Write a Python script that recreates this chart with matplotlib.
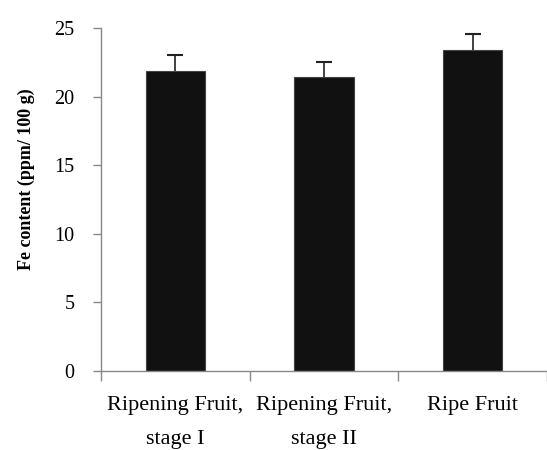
import matplotlib.pyplot as plt

# data
stages = ['Ripening Fruit,\nstage I', 'Ripening Fruit,\nstage II', 'Ripe Fruit']
fe = [21.9, 21.4, 23.4]
fe_err = [1.15, 1.1, 1.2]

plt.rcParams['font.family'] = ['Liberation Serif', 'DejaVu Serif']

fig = plt.figure(figsize=(5.47, 4.5), dpi=100)
ax = fig.add_axes([0.1846, 0.1756, 0.8154, 0.762])

x = list(range(len(stages)))
# error bars behind the bars so only the upper half shows
ax.errorbar(x, fe, yerr=fe_err, fmt='none', ecolor='#222222', elinewidth=1.2,
            capsize=5.5, capthick=1.5, zorder=1)
ax.bar(x, fe, width=0.4, color='#111111', edgecolor='#444444', linewidth=0.8, zorder=2)

ax.set_xlim(-0.5, 2.5)
ax.set_ylim(0, 25)
ax.set_yticks([0, 5, 10, 15, 20, 25])

ax.set_xticks(x)
ax.set_xticklabels(stages, fontsize=16, linespacing=2.05)
ax.set_xticks([-0.5, 0.5, 1.5, 2.5], minor=True)
ax.tick_params(axis='x', which='major', length=0, pad=18)
ax.tick_params(axis='x', which='minor', length=7, color='#888888', width=1)
ax.tick_params(axis='y', length=6, color='#888888', width=1, pad=13, labelsize=14.5)

for s in ['top', 'right']:
    ax.spines[s].set_visible(False)
for s in ['left', 'bottom']:
    ax.spines[s].set_color('#888888')
    ax.spines[s].set_linewidth(1)

ax.set_ylabel('Fe content (ppm/ 100 g)', fontsize=13, fontweight='bold')
ax.yaxis.set_label_coords(-0.148, 0.56)

fig.savefig('out.png', dpi=100)
